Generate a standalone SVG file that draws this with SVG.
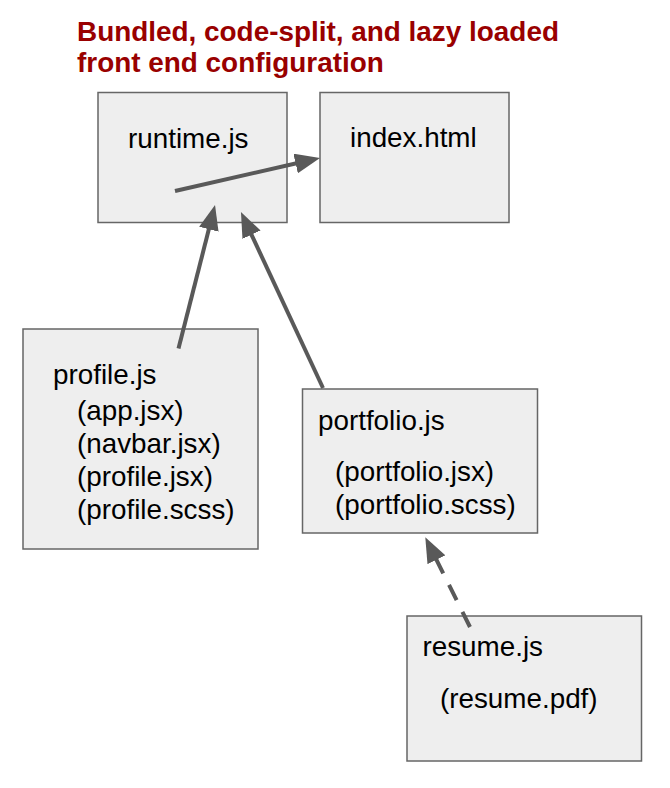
<svg xmlns="http://www.w3.org/2000/svg" width="670" height="788" viewBox="0 0 670 788">
<style>
.box{fill:#eeeeee;stroke:#666666;stroke-width:1.5}
.t{font-family:"Liberation Sans",Arial,sans-serif;font-size:27.8px;fill:#000}
.title{font-family:"Liberation Sans",Arial,sans-serif;font-size:27.9px;font-weight:bold;fill:#990000}
.conn{stroke:#595959;stroke-width:4;fill:none;marker-end:url(#ah)}
.dash{stroke-dasharray:17 13}
</style>
<defs>
<marker id="ah" markerUnits="userSpaceOnUse" markerWidth="26" markerHeight="20" refX="1" refY="10" orient="auto">
<path d="M0,0 L25,10 L0,20 z" fill="#595959"/>
</marker>
</defs>
<rect width="670" height="788" fill="#ffffff"/>
<g id="title">
<text class="title" x="77" y="40.5">Bundled, code-split, and lazy loaded</text>
<text class="title" x="77" y="71.5">front end configuration</text>
</g>
<g id="runtime">
<rect class="box" x="98" y="92.5" width="189" height="130"/>
<text class="t" x="128" y="147.5">runtime.js</text>
</g>
<g id="index">
<rect class="box" x="320" y="92.5" width="189" height="130"/>
<text class="t" x="350" y="146.5">index.html</text>
</g>
<g id="profile">
<rect class="box" x="23" y="329" width="235" height="220"/>
<text class="t" x="53" y="383.5">profile.js</text>
<text class="t" x="77" y="420">(app.jsx)</text>
<text class="t" x="77" y="453">(navbar.jsx)</text>
<text class="t" x="77" y="486">(profile.jsx)</text>
<text class="t" x="77" y="519">(profile.scss)</text>
</g>
<g id="portfolio">
<rect class="box" x="302.5" y="389" width="235" height="144"/>
<text class="t" x="318" y="430">portfolio.js</text>
<text class="t" x="335" y="481">(portfolio.jsx)</text>
<text class="t" x="335" y="514">(portfolio.scss)</text>
</g>
<g id="resume">
<rect class="box" x="407" y="616" width="234.5" height="145"/>
<text class="t" x="422.5" y="656">resume.js</text>
<text class="t" x="440" y="708">(resume.pdf)</text>
</g>
<g id="connectors">
<line class="conn" x1="175" y1="191" x2="296.6" y2="163.3"/>
<line class="conn" x1="178.5" y1="348.5" x2="209.1" y2="228.3"/>
<line class="conn" x1="323" y1="388" x2="251.1" y2="233.8"/>
<line class="conn dash" x1="470" y1="627" x2="436" y2="558.8"/>
</g>
</svg>
